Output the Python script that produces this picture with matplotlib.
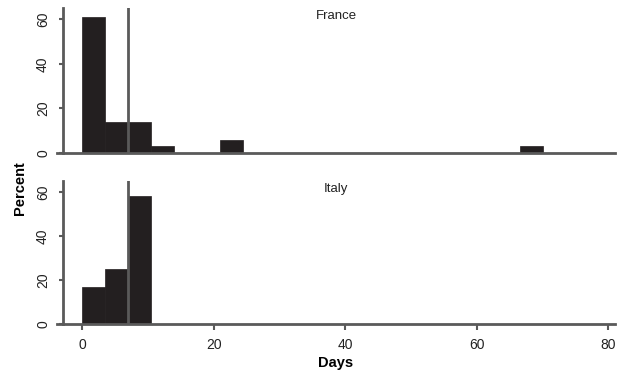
import numpy as np
import matplotlib.pyplot as plt

plt.rcParams['font.family'] = ['Liberation Sans', 'DejaVu Sans']

# histogram bins (days) and percentages per country
bin_edges = [0, 3.5, 7, 10.5, 14, 17.5, 21, 24.5, 28, 31.5, 35, 38.5, 42, 45.5,
             49, 52.5, 56, 59.5, 63, 66.5, 70]
france_pct = [61.1, 13.9, 13.9, 2.8, 0, 0, 5.6, 0, 0, 0, 0, 0, 0, 0, 0, 0, 0, 0, 0, 2.8]
italy_pct = [16.7, 25.0, 58.3, 0, 0, 0, 0, 0, 0, 0, 0, 0, 0, 0, 0, 0, 0, 0, 0, 0]
medians = {"France": 7, "Italy": 7}
x_ticks = [0, 20, 40, 60, 80]
y_ticks = [0, 20, 40, 60]

line_col = '#5a5a5a'
bar_col = '#231f20'
txt_col = '#222222'

fig = plt.figure(figsize=(6.19, 3.77), dpi=100)
ax_top = fig.add_axes([0.0921, 0.595, 0.9013, 0.3828])
ax_bot = fig.add_axes([0.0921, 0.1406, 0.9013, 0.380])

edges = np.array(bin_edges)
for ax, name, pct in [(ax_top, "France", france_pct), (ax_bot, "Italy", italy_pct)]:
    ax.bar(edges[:-1], pct, width=np.diff(edges), align='edge',
           color=bar_col, edgecolor=bar_col, linewidth=0.5, zorder=2)
    ax.axvline(medians[name], color=line_col, lw=2, zorder=3)
    ax.set_xlim(-3.85, 81)
    ax.set_ylim(0, 65)
    for s in ['top', 'right']:
        ax.spines[s].set_visible(False)
    ax.spines['left'].set_position(('data', -3))
    ax.spines['left'].set_color(line_col)
    ax.spines['left'].set_linewidth(2)
    ax.spines['bottom'].set_color(line_col)
    ax.spines['bottom'].set_linewidth(2)
    ax.spines['bottom'].set_zorder(4)
    ax.set_yticks(y_ticks)
    ax.set_yticklabels([str(t) for t in y_ticks], rotation=90, va='center', fontsize=10, color=txt_col)
    ax.tick_params(axis='y', length=3, width=1.5, color=line_col, pad=6)
    ax.set_xticks(x_ticks)
    ax.tick_params(axis='x', length=4, width=1.5, color=line_col)
    ax.text(0.5, 0.95 if name == "France" else 0.94, name, transform=ax.transAxes,
            ha='center', va='center', fontsize=9.5, color=txt_col)

ax_top.tick_params(axis='x', length=0, labelbottom=False)
ax_bot.set_xticklabels([str(t) for t in x_ticks], fontsize=10, color=txt_col)
ax_bot.tick_params(axis='x', pad=6)
ax_bot.set_xlabel('Days', fontsize=10.5, fontweight='bold', labelpad=3)

fig.text(0.033, 0.5, 'Percent', rotation=90, ha='center', va='center',
         fontsize=10.5, fontweight='bold')

fig.savefig('out.png', dpi=100)
